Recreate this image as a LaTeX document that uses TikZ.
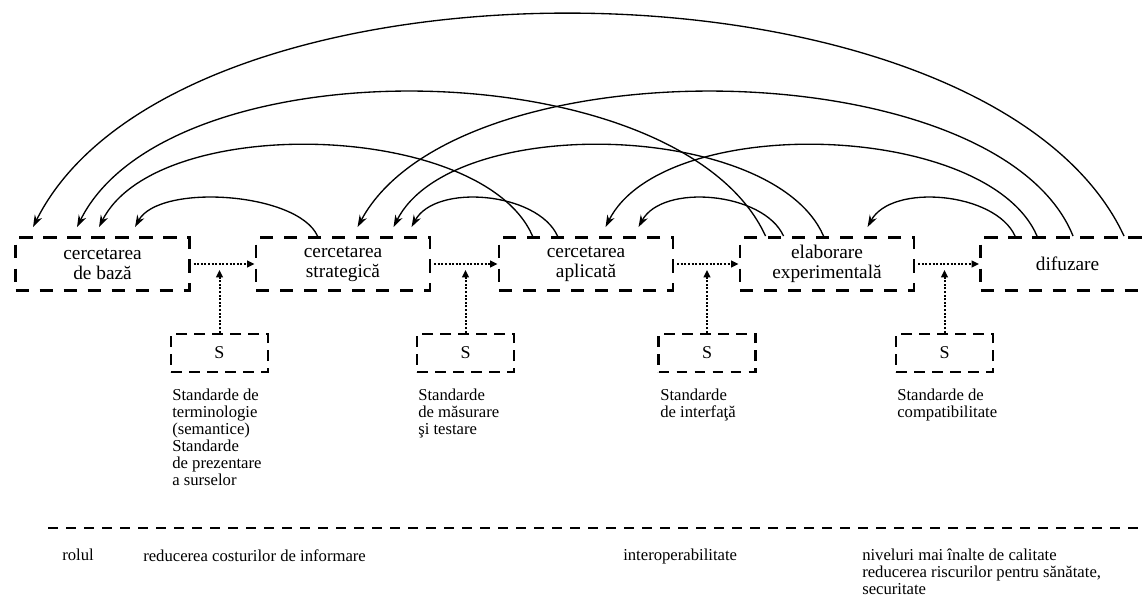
\documentclass[tikz,border=0pt]{standalone}
\usepackage{fontspec}
\setmainfont{Liberation Serif}
\usetikzlibrary{arrows.meta,calc}

\begin{document}
\begin{tikzpicture}[x=0.75pt,y=-0.75pt]
\tikzstyle{stage}=[draw, line width=2.2pt, dash pattern=on 10pt off 8pt, minimum width=130.5pt, minimum height=39.75pt, inner sep=0pt, align=center, font=\rmfamily\fontsize{14.5}{15}\selectfont]
\tikzstyle{sbox}=[draw, line width=2pt, dash pattern=on 8pt off 5.5pt, minimum width=72.75pt, minimum height=28.5pt, inner sep=0pt, font=\fontsize{13.5}{13.5}\selectfont]
\tikzstyle{note}=[anchor=north west, align=left, inner sep=0pt, font=\fontsize{12.5}{12.75}\selectfont]
\tikzstyle{hop}=[line width=1pt, -{Stealth[length=9pt,width=6pt]}]
\tikzstyle{link}=[line width=1.5pt, dash pattern=on 1.5pt off 1.2pt, -{Triangle[length=5.5pt,width=5pt]}]
\tikzstyle{rule}=[line width=1.9pt, dash pattern=on 7.5pt off 6pt]
\clip (0,0) rectangle (1144,599);
% the five stages
\node[stage] (b1) at (102.5,264) {cercetarea\\de bază};
\node[stage] (b2) at (343,264) {cercetarea\\strategică};
\node[stage] (b3) at (586,264) {cercetarea\\aplicată};
\node[stage] (b4) at (827,264) {elaborare\\experimentală};
\node[stage] (b5) at (1067.5,264) {difuzare};
% feedback arcs
\draw[hop] ($(b2.north west)+(63,0)$) .. controls +(-20,-44) and +(24,-44) .. ($(b1.north west)+(121,-9)$);
\draw[hop] ($(b3.north west)+(60,0)$) .. controls +(-20,-44) and +(24,-44) .. ($(b2.north west)+(157,-9)$);
\draw[hop] ($(b4.north west)+(45,0)$) .. controls +(-20,-44) and +(24,-44) .. ($(b3.north west)+(141,-9)$);
\draw[hop] ($(b5.north west)+(36,0)$) .. controls +(-20,-44) and +(24,-44) .. ($(b4.north west)+(129,-9)$);
\draw[hop] ($(b3.north west)+(35,0)$) .. controls +(-50,-115) and +(58,-115) .. ($(b1.north west)+(85,-9)$);
\draw[hop] ($(b4.north west)+(85,0)$) .. controls +(-50,-115) and +(58,-115) .. ($(b2.north west)+(139,-9)$);
\draw[hop] ($(b5.north west)+(58,0)$) .. controls +(-50,-115) and +(58,-115) .. ($(b3.north west)+(108,-9)$);
\draw[hop] ($(b4.north west)+(27,0)$) .. controls +(-85,-186) and +(92,-186) .. ($(b1.north west)+(63,-9)$);
\draw[hop] ($(b5.north west)+(94,0)$) .. controls +(-75,-186) and +(100,-186) .. ($(b2.north west)+(103,-9)$);
\draw[hop] ($(b5.north west)+(145,0)$) .. controls +(-135,-290) and +(145,-290) .. ($(b1.north west)+(19,-9)$);
% standards
\node[sbox] (s1) at (219.5,353) {S};
\node[sbox] (s2) at (465.5,353) {S};
\node[sbox] (s3) at (707,353) {S};
\node[sbox] (s4) at (944.5,353) {S};
\draw[link, shorten <=2pt] (b1.east) -- (b2.west);
\draw[link, shorten <=2pt] (b2.east) -- (b3.west);
\draw[link, shorten <=2pt] (b3.east) -- (b4.west);
\draw[link, shorten <=2pt] (b4.east) -- (b5.west);
\draw[link, shorten >=4.5pt] (s1.north) -- (s1.north |- b1.east);
\draw[link, shorten >=4.5pt] (s2.north) -- (s2.north |- b2.east);
\draw[link, shorten >=4.5pt] (s3.north) -- (s3.north |- b3.east);
\draw[link, shorten >=4.5pt] (s4.north) -- (s4.north |- b4.east);
\node[note] (n1) at (172,389) {Standarde de\\terminologie\\(semantice)\\Standarde\\de prezentare\\a surselor};
\node[note] (n2) at (418,389) {Standarde\\de măsurare\\şi testare};
\node[note] (n3) at (660,389) {Standarde\\de interfaţă};
\node[note] (n4) at (897,389) {Standarde de\\compatibilitate};
% role
\draw[rule] (48,528) -- (1144,528);
\node[note] (role) at (62,549) {rolul};
\node[note] (r1) at (143,549) {reducerea costurilor de informare};
\node[note] (r2) at (623,549) {interoperabilitate};
\node[note] (r3) at (862,549) {niveluri mai înalte de calitate\\reducerea riscurilor pentru sănătate,\\securitate};
\end{tikzpicture}
\end{document}
